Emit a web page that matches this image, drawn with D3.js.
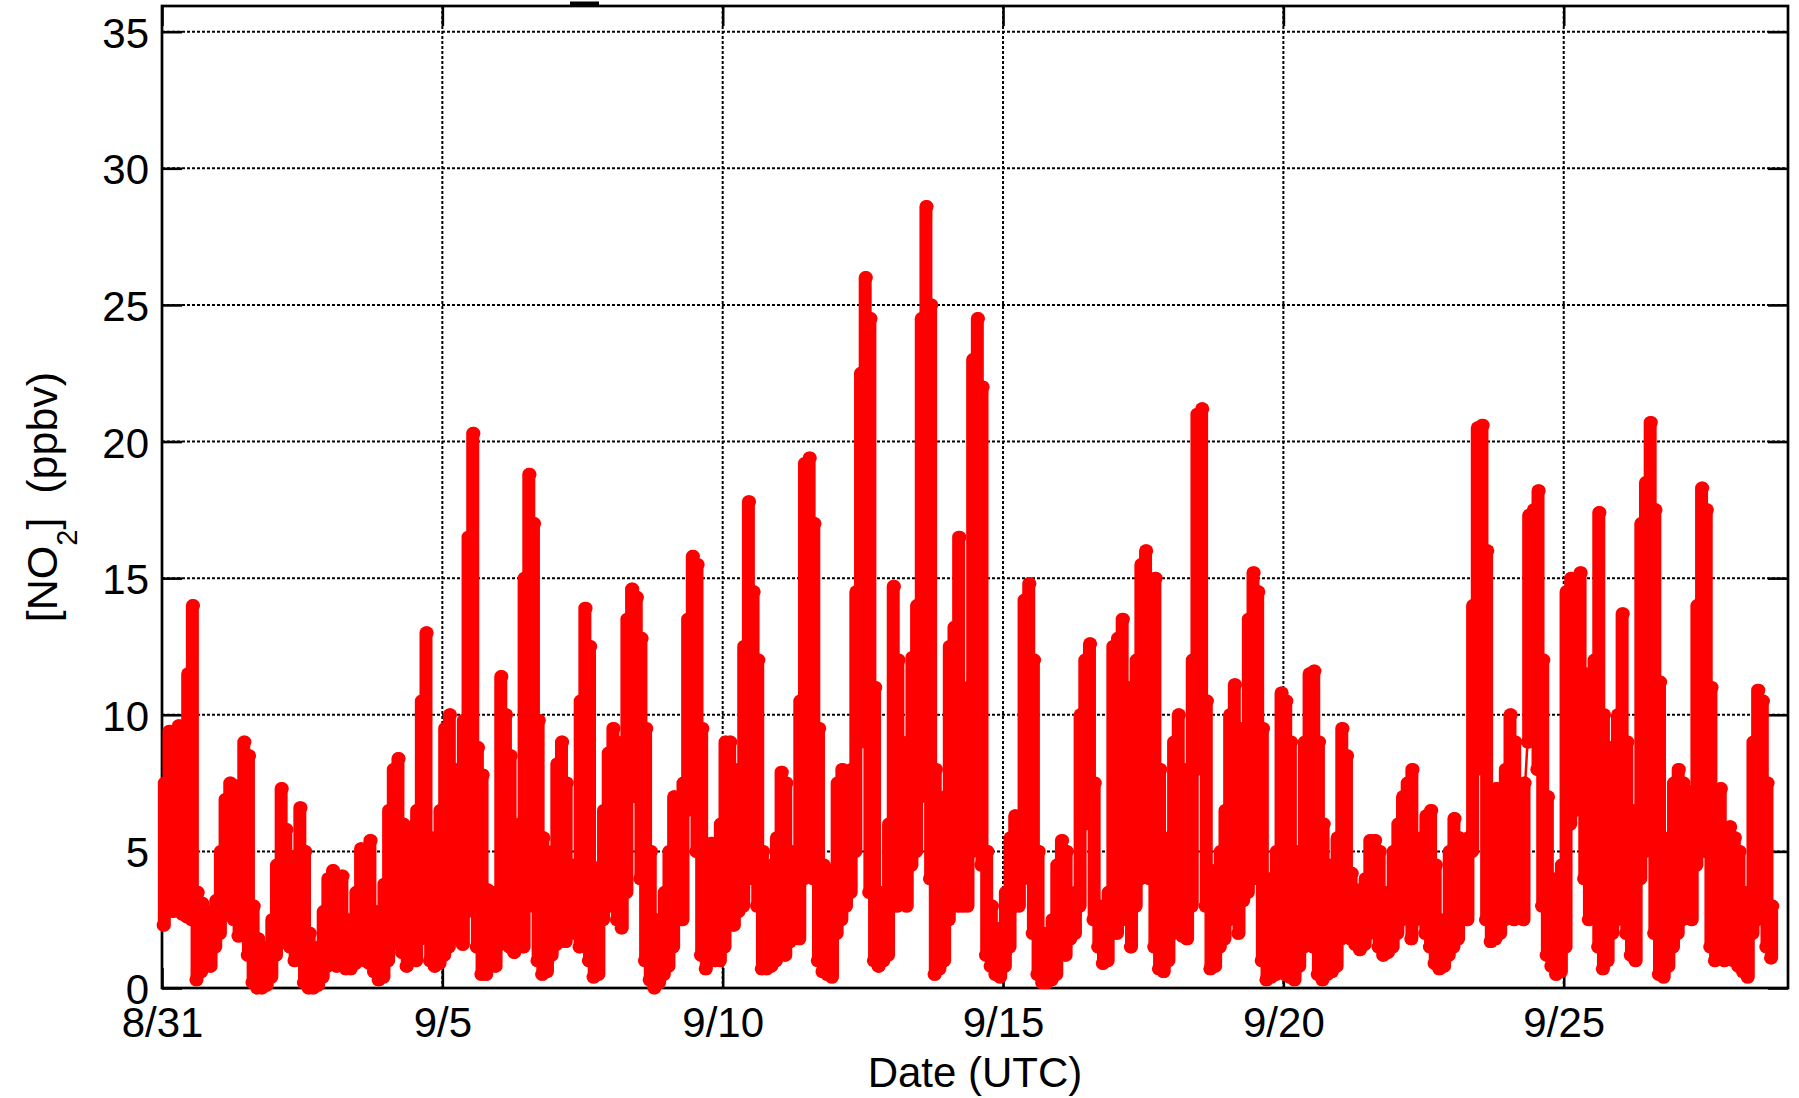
<!DOCTYPE html>
<html><head><meta charset="utf-8">
<script src="https://cdn.jsdelivr.net/npm/d3@7"></script>
<style>
html,body{margin:0;padding:0;background:#fff;}
svg{display:block;font-family:"Liberation Sans",Arial,Helvetica,sans-serif;}
</style>
</head><body>
<svg id="chart" width="1799" height="1098"></svg>
<script>
// ---- data (2-hour blocks; each block holds the low and high NO2 reading, ppbv) ----
const startDate = Date.UTC(2013, 7, 31);
const endDate = Date.UTC(2013, 8, 29);
const blockHours = 2;
const xTickDates = [Date.UTC(2013,7,31), Date.UTC(2013,8,5), Date.UTC(2013,8,10), Date.UTC(2013,8,15), Date.UTC(2013,8,20), Date.UTC(2013,8,25)];
const xTickLabels = ["8/31", "9/5", "9/10", "9/15", "9/20", "9/25"];
const yTicks = [0, 5, 10, 15, 20, 25, 30, 35];
const hiByDay = [
  [7.5,9.4,9.2,9.6,9.0,11.5,14.0,3.5,3.1,2.6,2.8,3.2],
  [5.0,6.9,7.5,7.4,5.5,9.0,8.5,3.0,1.8,1.0,1.5,2.5],
  [4.5,7.3,5.8,4.8,4.8,6.6,5.0,2.0,1.4,1.5,2.8,4.0],
  [4.3,3.8,4.1,2.5,2.2,3.5,5.1,3.8,5.4,2.8,2.4,3.8],
  [6.5,8.0,8.4,6.0,3.8,5.9,6.5,10.5,13.0,5.5,3.5,6.5],
  [9.5,10.0,8.0,6.5,9.8,16.5,20.3,8.8,7.8,3.6,3.5,3.2],
  [11.4,10.0,8.5,5.5,6.0,15.0,18.8,17.0,9.8,5.5,3.5,5.0],
  [8.2,9.0,7.5,4.5,4.5,10.5,13.9,12.5,4.4,4.2,6.5,8.6],
  [9.5,7.5,9.0,13.5,14.6,14.3,12.8,9.5,5.0,2.5,2.0,3.5],
  [5.0,7.0,5.5,7.5,13.5,15.8,15.5,9.5,5.0,5.3,4.5,6.0],
  [9.0,9.0,8.0,7.0,12.5,17.8,14.5,12.0,5.0,4.0,4.5,5.5],
  [7.9,7.5,5.0,4.8,10.5,19.2,19.4,17.0,9.5,4.5,4.3,3.5],
  [7.5,8.0,7.5,8.0,14.5,22.5,26.0,24.5,11.0,3.5,3.4,6.0],
  [14.7,12.0,8.0,9.0,12.1,14.0,24.5,28.6,25.0,8.0,4.5,7.0],
  [12.5,13.2,16.5,8.0,11.0,23.0,24.5,22.0,5.0,3.0,2.0,2.2],
  [3.5,5.5,6.3,6.0,14.2,14.8,12.0,5.0,2.0,1.8,2.5,4.5],
  [5.4,5.0,3.0,3.5,10.0,12.0,12.6,7.5,3.0,2.5,3.5,12.5],
  [12.8,13.5,11.0,6.0,12.0,15.5,16.0,14.5,15.0,8.0,4.0,5.5],
  [9.0,10.0,8.0,6.0,12.0,21.0,21.2,10.5,4.3,4.0,5.0,6.5],
  [10.0,11.1,9.5,6.0,13.5,15.2,14.5,9.5,4.0,4.0,5.0,10.8],
  [10.5,9.0,5.0,4.5,9.0,11.5,11.6,9.0,6.0,4.5,3.5,5.5],
  [9.5,8.5,4.2,3.6,3.5,4.0,5.4,5.4,5.0,3.5,3.0,5.0],
  [6.0,7.0,7.5,8.0,5.0,5.5,6.3,6.5,4.5,2.5,2.2,5.0],
  [6.2,5.5,5.0,5.5,14.0,20.5,20.6,16.0,7.0,7.3,7.0,8.0],
  [10.0,9.0,4.7,7.5,17.3,17.5,18.2,12.0,7.0,4.0,3.5,4.5],
  [14.5,15.0,14.5,15.2,11.5,10.3,12.0,17.4,10.0,8.8,7.0,10.0],
  [13.7,9.0,6.5,5.0,17.0,18.5,20.7,17.5,11.2,5.0,5.5,7.5],
  [8.0,7.5,7.2,6.5,14.0,18.3,17.5,11.0,6.8,7.3,5.0,5.9],
  [5.5,5.0,3.5,2.5,9.0,10.9,10.5,7.5,3.0]
];
const loByDay = [
  [2.3,3.0,2.8,3.0,2.7,2.6,2.5,0.3,0.6,0.8,0.8,1.5],
  [2.0,2.7,2.7,2.5,1.9,2.2,1.2,0.2,0.0,0.0,0.1,0.4],
  [1.2,2.2,1.8,1.5,1.0,1.5,0.2,0.0,0.0,0.1,0.4,0.8],
  [1.0,0.8,1.0,0.7,0.7,0.9,1.3,1.0,0.9,0.6,0.3,0.4],
  [1.0,1.6,1.8,1.3,0.8,1.2,1.0,1.8,2.5,1.0,0.8,0.9],
  [1.2,1.5,2.5,1.8,1.6,2.8,5.0,1.5,0.5,0.5,1.0,0.8],
  [1.6,1.8,1.5,1.3,1.5,1.5,5.0,3.0,1.0,0.5,0.6,1.2],
  [1.6,2.0,1.7,2.5,2.0,1.5,2.0,1.0,0.4,0.5,2.5,3.0],
  [3.0,2.5,2.2,3.5,9.5,7.0,4.0,1.0,0.3,0.0,0.2,0.5],
  [0.8,1.5,2.6,2.5,6.5,7.5,5.0,1.2,0.7,1.5,1.0,1.0],
  [1.5,2.5,2.3,2.8,3.0,5.0,4.0,3.0,0.7,0.7,0.8,1.0],
  [1.5,1.2,1.7,2.0,1.8,4.0,7.0,4.0,1.0,0.6,0.5,0.4],
  [2.0,2.5,3.0,3.5,5.0,9.0,14.0,3.5,1.0,0.8,1.0,1.2],
  [3.0,3.0,3.5,3.0,4.5,5.0,7.0,11.0,4.0,0.5,0.7,1.0],
  [2.5,4.0,3.0,3.0,3.0,5.0,10.0,4.5,1.2,0.8,0.5,0.4],
  [0.8,1.5,3.0,3.0,4.0,5.0,2.0,0.5,0.2,0.2,0.3,0.5],
  [1.5,1.2,1.8,2.0,3.0,6.0,6.5,2.5,1.5,0.9,1.0,2.0],
  [2.0,3.0,2.5,1.5,3.0,4.0,4.5,4.0,1.5,0.7,0.6,1.0],
  [2.0,2.5,1.9,1.8,3.0,8.0,10.5,3.0,0.7,0.8,1.5,1.8],
  [2.5,2.7,2.0,3.2,3.5,5.0,4.0,1.0,0.3,0.4,0.5,0.8],
  [0.5,0.4,0.3,0.8,1.5,2.5,1.5,0.5,0.3,0.5,0.6,0.8],
  [1.8,2.0,1.8,1.6,1.4,1.6,2.0,2.4,1.5,1.2,1.3,1.5],
  [2.0,2.5,2.8,1.8,2.5,3.0,2.0,1.5,0.9,0.7,0.8,1.2],
  [1.5,1.8,2.5,2.5,5.0,8.0,9.0,2.5,1.7,1.8,2.0,2.5],
  [2.8,2.5,2.6,2.5,9.0,12.0,8.0,3.0,1.2,0.8,0.5,0.6],
  [1.5,6.0,6.5,7.0,4.0,2.5,3.0,1.5,0.7,1.0,2.0,2.5],
  [3.0,2.0,1.2,1.0,4.0,5.0,9.0,2.0,0.5,0.4,0.8,1.5],
  [2.0,2.5,3.5,2.5,4.5,7.0,5.0,1.5,1.0,1.2,1.0,1.2],
  [1.0,0.8,0.6,0.4,2.0,2.5,4.5,1.5,1.1]
];

// ---- build blocks and points from the arrays ----
const HOUR = 3600e3;
const blocks = [];
const points = [];
hiByDay.forEach((his, d) => {
  his.forEach((hv, b) => {
    const t0 = startDate + (d * 24 + b * blockHours) * HOUR;
    const lv = loByDay[d][b];
    blocks.push({ t: t0 + 1.0 * HOUR, lo: lv, hi: hv });
    points.push({ t: t0 + 0.5 * HOUR, v: lv });
    points.push({ t: t0 + 1.5 * HOUR, v: hv });
  });
});

// ---- layout ----
const L = 162, R = 1788, T = 6, B = 988;
const svg = d3.select("#chart");
const x = d3.scaleUtc().domain([startDate, endDate]).range([L, R]);
const y = d3.scaleLinear().domain([0, 35.94]).range([B, T]);

// grid
const grid = svg.append("g").attr("stroke", "#000").attr("stroke-width", 2).attr("stroke-dasharray", "3,2");
grid.selectAll("line.h").data(yTicks.filter(v => v > 0)).join("line")
  .attr("x1", L).attr("x2", R).attr("y1", d => y(d)).attr("y2", d => y(d));
grid.selectAll("line.v").data(xTickDates.slice(1)).join("line")
  .attr("y1", T).attr("y2", B).attr("x1", d => x(d)).attr("x2", d => x(d));

// axes
const fs = 42;
const styleAxis = g => {
  g.select(".domain").remove();
  g.selectAll(".tick line").attr("stroke", "#000").attr("stroke-width", 2.6);
  g.selectAll(".tick text").attr("font-size", fs).attr("fill", "#000")
    .attr("font-family", '"Liberation Sans", Arial, sans-serif');
};
svg.append("g").attr("transform", `translate(0,${B})`)
  .call(d3.axisBottom(x).tickValues(xTickDates).tickFormat((d, i) => xTickLabels[i]).tickSizeInner(-20).tickSizeOuter(0).tickPadding(19))
  .call(styleAxis);
svg.append("g").attr("transform", `translate(0,${T})`)
  .call(d3.axisTop(x).tickValues(xTickDates).tickFormat("").tickSizeInner(-20).tickSizeOuter(0))
  .call(styleAxis);
svg.append("g").attr("transform", `translate(${L},0)`)
  .call(d3.axisLeft(y).tickValues(yTicks).tickFormat(d3.format("d")).tickSizeInner(-20).tickSizeOuter(0).tickPadding(13))
  .call(styleAxis)
  .call(g => g.selectAll(".tick text").attr("dy", "0.37em"));
svg.append("g").attr("transform", `translate(${R},0)`)
  .call(d3.axisRight(y).tickValues(yTicks).tickFormat("").tickSizeInner(-20).tickSizeOuter(0))
  .call(styleAxis);

// frame
svg.append("rect").attr("x", L).attr("y", T).attr("width", R - L).attr("height", B - T)
  .attr("fill", "none").attr("stroke", "#000").attr("stroke-width", 2.7);
svg.append("rect").attr("x", 570).attr("y", 1.5).attr("width", 29).attr("height", 5).attr("fill", "#000");

// data: dense marker columns (low to high in each block), connecting line and markers
const red = "#ff0000";
const mr = 6.5;
svg.append("g").attr("stroke", red).attr("stroke-width", mr * 2).attr("stroke-linecap", "round")
  .selectAll("line").data(blocks).join("line")
  .attr("x1", d => x(d.t)).attr("x2", d => x(d.t))
  .attr("y1", d => y(d.lo)).attr("y2", d => y(d.hi));
const line = d3.line().x(d => x(d.t)).y(d => y(d.v));
svg.append("path").datum(points).attr("d", line)
  .attr("fill", "none").attr("stroke", red).attr("stroke-width", 2.5).attr("stroke-linejoin", "round");
svg.append("g").attr("fill", red).selectAll("circle").data(points).join("circle")
  .attr("cx", d => x(d.t)).attr("cy", d => y(d.v)).attr("r", mr);

// titles
svg.append("text").attr("x", (L + R) / 2).attr("y", 1087).attr("text-anchor", "middle")
  .attr("font-size", fs).attr("fill", "#000").text("Date (UTC)");
const yt = svg.append("text").attr("transform", "translate(57,497) rotate(-90)")
  .attr("text-anchor", "middle").attr("font-size", 43).attr("fill", "#000")
  .style("white-space", "pre");
yt.append("tspan").text("[NO");
yt.append("tspan").attr("font-size", 29).attr("dy", 20).text("2");
yt.append("tspan").attr("dy", -20).text("]  (ppbv)");
</script>
</body></html>
